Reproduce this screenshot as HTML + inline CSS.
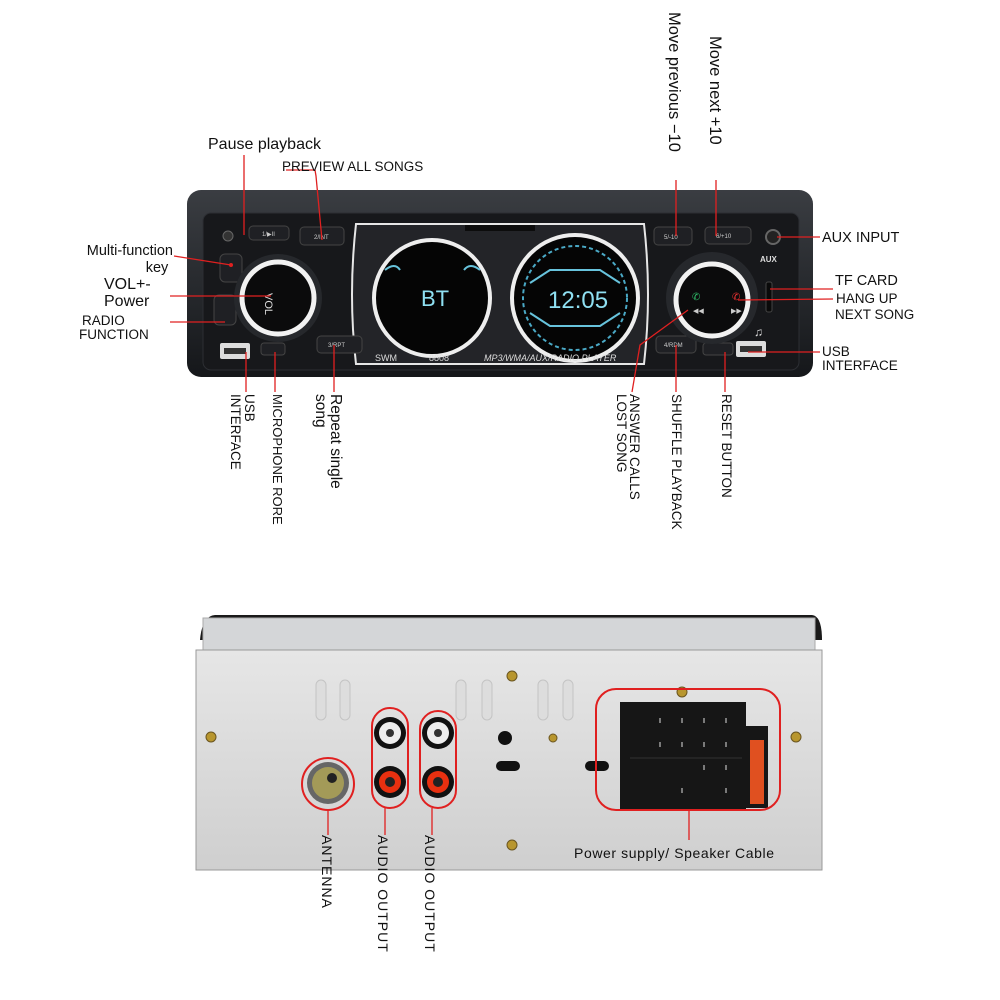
<!DOCTYPE html>
<html><head><meta charset="utf-8"><style>
html,body{margin:0;padding:0;background:#fff}
svg{display:block}
text{font-family:"Liberation Sans",sans-serif;fill:#111}
</style></head><body>
<svg width="1000" height="1000" viewBox="0 0 1000 1000" xmlns="http://www.w3.org/2000/svg">
<defs>
<linearGradient id="body" x1="0" y1="0" x2="0" y2="1"><stop offset="0" stop-color="#3a3d42"/><stop offset="1" stop-color="#15171a"/></linearGradient>
<linearGradient id="metal" x1="0" y1="0" x2="0" y2="1"><stop offset="0" stop-color="#e6e6e6"/><stop offset="1" stop-color="#cfcfcf"/></linearGradient>
</defs>

<!-- FRONT PANEL -->
<rect x="187" y="190" width="626" height="187" rx="14" fill="url(#body)"/>
<rect x="203" y="213" width="596" height="157" rx="8" fill="#17181b" stroke="#2c2e33"/>
<path d="M356 224 L644 224 Q652 295 644 364 L356 364 Q348 295 356 224Z" fill="#232428" stroke="#e6e6e6" stroke-width="2"/>
<rect x="465" y="225" width="70" height="6" fill="#0c0c0c"/>
<circle cx="432" cy="298" r="58" fill="#050505" stroke="#eee" stroke-width="4"/>
<circle cx="575" cy="298" r="63" fill="#050505" stroke="#eee" stroke-width="4"/>
<circle cx="575" cy="298" r="52" fill="none" stroke="#4aa9c6" stroke-width="2" stroke-dasharray="4 3"/>
<path d="M385 270 Q395 262 400 270 M464 270 Q470 262 480 270" stroke="#67c3dc" stroke-width="2" fill="none"/>
<path d="M530 283 L550 270 L600 270 L620 283 M530 313 L550 326 L600 326 L620 313" stroke="#67c3dc" stroke-width="2" fill="none"/>
<text x="421" y="306" font-size="22" style="fill:#8fe0f2">BT</text>
<text x="548" y="308" font-size="24" style="fill:#8fe0f2">12:05</text>
<text x="375" y="361" font-size="9" style="fill:#ddd">SWM</text>
<text x="429" y="361" font-size="9" style="fill:#ddd">8808</text>
<text x="484" y="361" font-size="9" font-style="italic" style="fill:#ddd">MP3/WMA/AUX/RADIO PLAYER</text>
<g fill="#1f2024" stroke="#444" stroke-width="1">
<rect x="249" y="226" width="40" height="14" rx="4"/>
<rect x="300" y="227" width="44" height="18" rx="4"/>
<rect x="654" y="227" width="38" height="18" rx="4"/>
<rect x="705" y="227" width="46" height="17" rx="4"/>
<rect x="317" y="336" width="45" height="17" rx="4"/>
<rect x="656" y="336" width="40" height="17" rx="4"/>
<rect x="220" y="254" width="22" height="28" rx="5"/>
<rect x="214" y="295" width="22" height="30" rx="5"/>
<rect x="261" y="343" width="24" height="12" rx="3"/>
<rect x="703" y="343" width="30" height="12" rx="3"/>
</g>
<g font-size="6">
<text x="262" y="236" style="fill:#ccc">1/▶II</text><text x="314" y="239" style="fill:#ccc">2/INT</text>
<text x="664" y="239" style="fill:#ccc">5/-10</text><text x="716" y="238" style="fill:#ccc">6/+10</text>
<text x="328" y="347" style="fill:#ccc">3/RPT</text><text x="664" y="347" style="fill:#ccc">4/RDM</text>
</g>
<circle cx="228" cy="236" r="5" fill="#333" stroke="#666"/>
<circle cx="773" cy="237" r="7" fill="#222" stroke="#666" stroke-width="2"/>
<text x="760" y="262" font-size="8" style="fill:#ddd" font-weight="bold">AUX</text>
<rect x="766" y="282" width="6" height="30" rx="2" fill="#0a0a0a" stroke="#444"/>
<circle cx="278" cy="298" r="44" fill="#26282c"/>
<circle cx="278" cy="298" r="36" fill="#0b0b0c" stroke="#f2f2f2" stroke-width="5"/>
<text x="263" y="305" font-size="11" style="fill:#ddd" transform="rotate(90 270 300)">VOL</text>
<circle cx="712" cy="298" r="46" fill="#26282c"/>
<circle cx="712" cy="300" r="36" fill="#0b0b0c" stroke="#f2f2f2" stroke-width="5"/>
<text x="692" y="300" font-size="10" style="fill:#2fbf6a">✆</text>
<text x="732" y="300" font-size="10" style="fill:#e33">✆</text>
<text x="693" y="313" font-size="7" style="fill:#ccc">◀◀</text><text x="731" y="313" font-size="7" style="fill:#ccc">▶▶</text>
<rect x="220" y="343" width="30" height="16" rx="2" fill="#ddd"/><rect x="224" y="348" width="22" height="6" fill="#333"/>
<rect x="736" y="341" width="30" height="16" rx="2" fill="#ddd"/><rect x="740" y="346" width="22" height="6" fill="#333"/>
<text x="754" y="336" font-size="12" style="fill:#ddd">♫</text>

<g stroke="#e02020" stroke-width="1.3" fill="none">
<path d="M244 155 L244 235"/><path d="M286 170 L315 170 L316 176 L322 240"/>
<path d="M676 180 L676 236"/><path d="M716 180 L716 236"/>
<path d="M174 256 L231 265"/><path d="M170 296 L271 296"/><path d="M170 322 L225 322"/>
<path d="M777 237 L820 237"/><path d="M770 289 L833 289"/><path d="M738 300 L833 299"/>
<path d="M748 352 L820 352"/>
<path d="M246 352 L246 392"/><path d="M275 352 L275 392"/><path d="M334 345 L334 392"/>
<path d="M688 310 L640 345 L632 392"/><path d="M676 345 L676 392"/><path d="M725 352 L725 392"/>
</g>
<circle cx="231" cy="265" r="2" fill="#e02020"/>

<g style="font-weight:500">
<text x="208" y="149" font-size="16">Pause playback</text>
<text x="282" y="171" font-size="13.5">PREVIEW ALL SONGS</text>
<text x="173" y="255" font-size="14.5" text-anchor="end">Multi-function</text>
<text x="157" y="272" font-size="14.5" text-anchor="middle">key</text>
<text x="104" y="289" font-size="16">VOL+-</text>
<text x="104" y="306" font-size="16">Power</text>
<text x="82" y="325" font-size="13.5">RADIO</text>
<text x="79" y="339" font-size="13.5">FUNCTION</text>
<text x="822" y="242" font-size="14.5">AUX INPUT</text>
<text x="835" y="285" font-size="14.5">TF CARD</text>
<text x="836" y="303" font-size="13.5">HANG UP</text>
<text x="835" y="319" font-size="13.5">NEXT SONG</text>
<text x="822" y="356" font-size="13.5">USB</text>
<text x="822" y="370" font-size="13.5">INTERFACE</text>
<text font-size="16.5" transform="translate(669,12) rotate(90)">Move previous −10</text>
<text font-size="16.5" transform="translate(710,36) rotate(90)">Move next +10</text>
<text font-size="13.5" transform="translate(245,394) rotate(90)">USB</text>
<text font-size="13.5" transform="translate(231,394) rotate(90)">INTERFACE</text>
<text font-size="13" transform="translate(273,394) rotate(90)">MICROPHONE RORE</text>
<text font-size="15.5" transform="translate(331,394) rotate(90)">Repeat single</text>
<text font-size="15.5" transform="translate(316,394) rotate(90)">song</text>
<text font-size="13.5" transform="translate(630,394) rotate(90)">ANSWER CALLS</text>
<text font-size="13.5" transform="translate(617,394) rotate(90)">LOST SONG</text>
<text font-size="13.5" transform="translate(672,394) rotate(90)">SHUFFLE PLAYBACK</text>
<text font-size="13.5" transform="translate(722,394) rotate(90)">RESET BUTTON</text>
</g>

<!-- BACK PANEL -->
<path d="M200 640 Q202 616 215 615 L812 615 Q822 616 822 640 Z" fill="#1a1a1a"/>
<rect x="203" y="618" width="612" height="32" fill="#d4d6d8" stroke="#aaa"/>
<rect x="196" y="650" width="626" height="220" fill="url(#metal)" stroke="#999"/>
<g fill="#ddd" stroke="#c4c4c4">
<rect x="316" y="680" width="10" height="40" rx="5"/><rect x="340" y="680" width="10" height="40" rx="5"/>
<rect x="456" y="680" width="10" height="40" rx="5"/><rect x="482" y="680" width="10" height="40" rx="5"/>
<rect x="538" y="680" width="10" height="40" rx="5"/><rect x="563" y="680" width="10" height="40" rx="5"/>
</g>
<g fill="#b8962e" stroke="#6a5520"><circle cx="211" cy="737" r="5"/><circle cx="796" cy="737" r="5"/><circle cx="512" cy="676" r="5"/><circle cx="512" cy="845" r="5"/><circle cx="553" cy="738" r="4"/><circle cx="682" cy="692" r="5"/></g>
<circle cx="505" cy="738" r="7" fill="#111"/>
<rect x="496" y="761" width="24" height="10" rx="5" fill="#111"/>
<rect x="585" y="761" width="24" height="10" rx="5" fill="#111"/>
<circle cx="328" cy="783" r="21" fill="#666"/><circle cx="328" cy="783" r="16" fill="#a39a58"/><circle cx="332" cy="778" r="5" fill="#222"/>
<circle cx="328" cy="784" r="26" fill="none" stroke="#e02020" stroke-width="2"/>
<g>
<circle cx="390" cy="733" r="16" fill="#111"/><circle cx="390" cy="733" r="11" fill="#eee"/><circle cx="390" cy="733" r="4" fill="#333"/>
<circle cx="390" cy="782" r="16" fill="#111"/><circle cx="390" cy="782" r="11" fill="#e83010"/><circle cx="390" cy="782" r="5" fill="#222"/>
<circle cx="438" cy="733" r="16" fill="#111"/><circle cx="438" cy="733" r="11" fill="#eee"/><circle cx="438" cy="733" r="4" fill="#333"/>
<circle cx="438" cy="782" r="16" fill="#111"/><circle cx="438" cy="782" r="11" fill="#e83010"/><circle cx="438" cy="782" r="5" fill="#222"/>
</g>
<rect x="372" y="708" width="36" height="100" rx="18" fill="none" stroke="#e02020" stroke-width="2"/>
<rect x="420" y="711" width="36" height="97" rx="18" fill="none" stroke="#e02020" stroke-width="2"/>
<rect x="620" y="702" width="126" height="108" fill="#161616"/>
<rect x="740" y="726" width="28" height="82" fill="#161616"/>
<rect x="750" y="740" width="14" height="64" fill="#e05020"/>
<g stroke="#ddd" stroke-width="1"><path d="M660 718v5M682 718v5M704 718v5M726 718v5M660 742v5M682 742v5M704 742v5M726 742v5M704 765v5M726 765v5M682 788v5M726 788v5"/></g>
<path d="M630 758 L742 758" stroke="#333"/>
<rect x="596" y="689" width="184" height="121" rx="20" fill="none" stroke="#e02020" stroke-width="2"/>

<g stroke="#e02020" stroke-width="1.3">
<path d="M328 810 L328 835"/><path d="M385 808 L385 835"/><path d="M432 808 L432 835"/><path d="M689 810 L689 840"/>
</g>
<g style="font-weight:500">
<text font-size="14" transform="translate(322,835) rotate(90)" letter-spacing="1">ANTENNA</text>
<text font-size="14" transform="translate(378,835) rotate(90)" letter-spacing="1">AUDIO OUTPUT</text>
<text font-size="14" transform="translate(425,835) rotate(90)" letter-spacing="1">AUDIO OUTPUT</text>
<text x="574" y="858" font-size="14" letter-spacing="0.6">Power supply/ Speaker Cable</text>
</g>
</svg>
</body></html>
